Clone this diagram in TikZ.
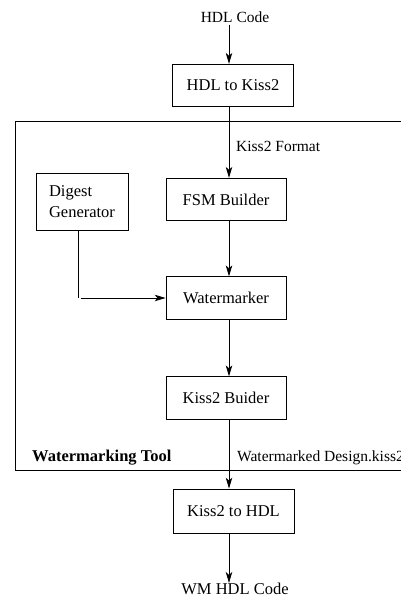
\documentclass[tikz,border=0pt]{standalone}
\usepackage{fontspec}
\setmainfont{Liberation Serif}
\usetikzlibrary{arrows.meta}
\begin{document}
\begin{tikzpicture}[x=1pt,y=-1pt,
  every node/.style={font=\fontsize{16.5}{20.5}\selectfont, inner sep=0pt},
  lbl/.style={font=\fontsize{15.5}{19}\selectfont},
  blk/.style={draw, line width=0.8pt, minimum height=42.5pt},
  arr/.style={line width=0.8pt, -{Stealth[length=11pt,width=6.5pt,inset=3pt]}},
  ln/.style={line width=0.8pt}]
\useasboundingbox (0,0) rectangle (401,599);
\coordinate (spine) at (229,0);
% outer frame (open on the right)
\coordinate (frTR) at (405,121);
\coordinate (frTL) at (15,121);
\coordinate (frBL) at (15,470);
\coordinate (frBR) at (405,470);
\draw[ln] (frTR) -- (frTL) -- (frBL) -- (frBR);
% nodes
\node[lbl] (hdl) at (235,17) {HDL Code};
\node[blk, minimum width=121pt] (h2k) at (233,85.5) {HDL to Kiss2};
\node[lbl, anchor=west] (kfmt) at (236,146) {Kiss2 Format};
\node[blk, minimum width=92pt, minimum height=57pt, align=left] (dig) at (82,201.5) {Digest\\Generator};
\node[blk, minimum width=120pt] (fsm) at (226,199.5) {FSM Builder};
\node[blk, minimum width=120pt] (wm) at (226,298) {Watermarker};
\node[blk, minimum width=120pt] (kb) at (226,398) {Kiss2 Buider};
\node[lbl, anchor=west] (wmd) at (237,458) {Watermarked Design.kiss2};
\node[anchor=west, font=\fontsize{16.5}{20}\selectfont\bfseries] (tool) at (32,458) {Watermarking Tool};
\node[blk, minimum width=121pt, minimum height=44pt] (k2h) at (233.5,511) {Kiss2 to HDL};
\node (wmhdl) at (235,589) {WM HDL Code};
% connectors
\draw[arr] (hdl.south -| spine) ++(0,2) -- (h2k.north -| spine);
\draw[arr] (h2k.south -| spine) -- (fsm.north -| spine);
\draw[arr] (fsm.south -| spine) -- (wm.north -| spine);
\draw[arr] (wm.south -| spine) -- (kb.north -| spine);
\draw[arr] (kb.south -| spine) -- (k2h.north -| spine);
\draw[arr] (k2h.south -| spine) -- (wmhdl.north -| spine);
\coordinate (dcorner) at (78,298);
\draw[ln] (dig.south -| dcorner) -- (dcorner);
\draw[arr] (dcorner) ++(2.5,0) -- (wm.west);
\end{tikzpicture}
\end{document}
